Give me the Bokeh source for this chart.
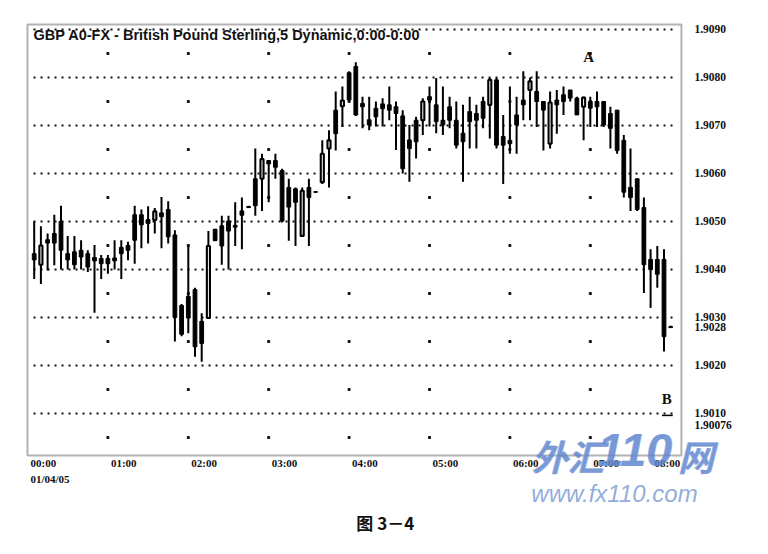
from bokeh.plotting import figure
from bokeh.models import Range1d, Label, ColumnDataSource, BoxAnnotation
from bokeh.core.properties import value
from bokeh.embed import file_html
from bokeh.resources import INLINE

# ---- data: 5-minute bars, GBP, 01/04/05 00:05 .. 08:00 ----
bar_no = list(range(1, 97))          # bar n closes at n*5 minutes after 00:00
opens = [1.90433, 1.90410, 1.90462, 1.90475, 1.90500, 1.90433, 1.90437, 1.90440, 1.90433, 1.90425,
         1.90423, 1.90423, 1.90424, 1.90446, 1.90450, 1.90514, 1.90514, 1.90504, 1.90503, 1.90518,
         1.90525, 1.90472, 1.90325, 1.90344, 1.90358, 1.90292, 1.90299, 1.90484, 1.90491, 1.90501,
         1.90492, 1.90522, 1.90531, 1.90589, 1.90589, 1.90627, 1.90627, 1.90606, 1.90571, 1.90568,
         1.90470, 1.90571, 1.90562, 1.90582, 1.90652, 1.90732, 1.90740, 1.90810, 1.90823, 1.90746,
         1.90712, 1.90736, 1.90745, 1.90743, 1.90739, 1.90720, 1.90670, 1.90711, 1.90711, 1.90760,
         1.90743, 1.90711, 1.90739, 1.90711, 1.90684, 1.90729, 1.90725, 1.90750, 1.90743, 1.90795,
         1.90677, 1.90669, 1.90722, 1.90753, 1.90774, 1.90771, 1.90750, 1.90662, 1.90753, 1.90764,
         1.90774, 1.90757, 1.90739, 1.90750, 1.90750, 1.90750, 1.90725, 1.90732, 1.90669, 1.90571,
         1.90589, 1.90529, 1.90421, 1.90421, 1.90421, 1.90281]
highs = [1.90500, 1.90490, 1.90475, 1.90514, 1.90533, 1.90470, 1.90470, 1.90461, 1.90440, 1.90451,
         1.90430, 1.90430, 1.90461, 1.90461, 1.90458, 1.90533, 1.90525, 1.90532, 1.90528, 1.90551,
         1.90542, 1.90482, 1.90328, 1.90449, 1.90362, 1.90309, 1.90480, 1.90484, 1.90512, 1.90512,
         1.90540, 1.90550, 1.90533, 1.90652, 1.90641, 1.90627, 1.90641, 1.90610, 1.90589, 1.90571,
         1.90571, 1.90589, 1.90563, 1.90669, 1.90690, 1.90771, 1.90781, 1.90813, 1.90832, 1.90760,
         1.90760, 1.90750, 1.90757, 1.90781, 1.90750, 1.90732, 1.90701, 1.90718, 1.90757, 1.90781,
         1.90799, 1.90781, 1.90760, 1.90750, 1.90743, 1.90760, 1.90743, 1.90760, 1.90799, 1.90799,
         1.90722, 1.90781, 1.90760, 1.90813, 1.90800, 1.90813, 1.90750, 1.90771, 1.90774, 1.90781,
         1.90774, 1.90760, 1.90760, 1.90760, 1.90771, 1.90750, 1.90739, 1.90732, 1.90680, 1.90652,
         1.90589, 1.90550, 1.90442, 1.90449, 1.90442, 1.90283]
lows = [1.90380, 1.90370, 1.90398, 1.90409, 1.90400, 1.90400, 1.90400, 1.90400, 1.90395, 1.90310,
        1.90380, 1.90391, 1.90400, 1.90380, 1.90419, 1.90412, 1.90444, 1.90454, 1.90475, 1.90444,
        1.90454, 1.90250, 1.90261, 1.90267, 1.90218, 1.90208, 1.90299, 1.90460, 1.90410, 1.90400,
        1.90449, 1.90442, 1.90529, 1.90512, 1.90522, 1.90540, 1.90589, 1.90498, 1.90460, 1.90449,
        1.90470, 1.90449, 1.90560, 1.90578, 1.90571, 1.90648, 1.90697, 1.90752, 1.90720, 1.90694,
        1.90690, 1.90698, 1.90698, 1.90711, 1.90649, 1.90600, 1.90583, 1.90631, 1.90680, 1.90698,
        1.90684, 1.90680, 1.90694, 1.90652, 1.90583, 1.90652, 1.90652, 1.90694, 1.90673, 1.90652,
        1.90578, 1.90641, 1.90641, 1.90711, 1.90711, 1.90697, 1.90648, 1.90652, 1.90683, 1.90722,
        1.90750, 1.90722, 1.90669, 1.90697, 1.90697, 1.90697, 1.90652, 1.90641, 1.90550, 1.90522,
        1.90522, 1.90351, 1.90320, 1.90362, 1.90229, 1.90278]
closes = [1.90420, 1.90450, 1.90455, 1.90455, 1.90440, 1.90420, 1.90410, 1.90426, 1.90405, 1.90418,
          1.90412, 1.90412, 1.90418, 1.90433, 1.90440, 1.90461, 1.90493, 1.90496, 1.90521, 1.90510,
          1.90468, 1.90300, 1.90265, 1.90299, 1.90239, 1.90246, 1.90449, 1.90460, 1.90449, 1.90480,
          1.90488, 1.90513, 1.90529, 1.90533, 1.90630, 1.90620, 1.90613, 1.90501, 1.90530, 1.90540,
          1.90564, 1.90550, 1.90561, 1.90641, 1.90669, 1.90683, 1.90752, 1.90753, 1.90722, 1.90739,
          1.90701, 1.90718, 1.90735, 1.90732, 1.90725, 1.90610, 1.90652, 1.90666, 1.90750, 1.90753,
          1.90708, 1.90701, 1.90711, 1.90659, 1.90666, 1.90708, 1.90711, 1.90715, 1.90795, 1.90659,
          1.90659, 1.90662, 1.90701, 1.90743, 1.90792, 1.90750, 1.90732, 1.90748, 1.90743, 1.90750,
          1.90757, 1.90722, 1.90758, 1.90736, 1.90739, 1.90701, 1.90694, 1.90648, 1.90561, 1.90550,
          1.90525, 1.90410, 1.90400, 1.90390, 1.90260, 1.90279]

hour_labels = ["00:00", "01:00", "02:00", "03:00", "04:00", "05:00", "06:00", "07:00", "08:00"]
date_label = "01/04/05"
price_ticks = [1.9090, 1.9080, 1.9070, 1.9060, 1.9050, 1.9040, 1.9030, 1.9028, 1.9020, 1.9010, 1.90076]
price_labels = ["1.9090", "1.9080", "1.9070", "1.9060", "1.9050", "1.9040", "1.9030", "1.9028",
                "1.9020", "1.9010", "1.90076"]
grid_levels = [1.9010, 1.9020, 1.9030, 1.9040, 1.9050, 1.9060, 1.9070, 1.9080, 1.9090]
title_text = "GBP A0-FX - British Pound Sterling,5 Dynamic,0:00-0:00"
caption_text = "图 3－4"
watermark_parts = ["外汇", "110", "网"]
watermark_url = "www.fx110.com"

# ---- chart window (data units) ----
t_start, t_end = 0, 488              # minutes after 00:00 shown in the chart box
chart_bottom, chart_top = 1.900125, 1.909104
PX_X = 80.4 / 60                     # pixels per minute
PX_Y = 48000.0                       # pixels per price unit
FRAME_W, FRAME_H = 740, 528

# ---- derived ----
xs = [5 * n for n in bar_no]
tops = [max(o, c) for o, c in zip(opens, closes)]
bots = [min(o, c) for o, c in zip(opens, closes)]
ups = [c > o for o, c in zip(opens, closes)]
src_dn = ColumnDataSource(dict(x=[x for x, u in zip(xs, ups) if not u],
                               top=[t for t, u in zip(tops, ups) if not u],
                               bottom=[b for b, u in zip(bots, ups) if not u]))
src_up = ColumnDataSource(dict(x=[x for x, u in zip(xs, ups) if u],
                               top=[t for t, u in zip(tops, ups) if u],
                               bottom=[b for b, u in zip(bots, ups) if u]))
src_w = ColumnDataSource(dict(x=xs, high=highs, low=lows))

SERIF = "Liberation Serif"
INK = "#111111"

pad_x = 2 / PX_X
pad_y = 2 / PX_Y
x0 = t_start - pad_x
y1 = chart_top + pad_y
p = figure(frame_width=FRAME_W, frame_height=FRAME_H,
           x_range=Range1d(x0, x0 + FRAME_W / PX_X),
           y_range=Range1d(y1 - FRAME_H / PX_Y, y1),
           output_backend="svg", toolbar_location=None,
           x_axis_location=None, y_axis_location=None,
           min_border_left=25, min_border_top=22, min_border_right=1, min_border_bottom=2)
p.outline_line_color = None
p.background_fill_color = "white"
p.border_fill_color = "white"
p.xgrid.visible = False
p.ygrid.visible = False

# chart box
p.add_layout(BoxAnnotation(left=t_start, right=t_end, bottom=chart_bottom, top=chart_top,
                           fill_color=None, line_color="black", line_width=2))

# dotted horizontal grid
p.segment(x0=[t_start + 4.5] * len(grid_levels), y0=grid_levels,
          x1=[t_end - 6.5] * len(grid_levels), y1=grid_levels,
          line_color=INK, line_width=2, line_dash="2 5")

# sparse vertical dots at each hour, on half levels
half_levels = [g - 0.0005 for g in grid_levels]
vx, vy = [], []
for h in range(1, len(hour_labels) - 1):
    for lv in half_levels:
        vx.append(60 * h)
        vy.append(lv)
p.scatter(vx, vy, marker="square", size=2, color=INK)

# candles
p.segment(x0="x", y0="low", x1="x", y1="high", line_width=2, line_color="black", source=src_w)
p.vbar(x="x", width=2.8, top="top", bottom="bottom", fill_color="black", line_color="black",
       line_width=1, source=src_dn)
p.vbar(x="x", width=2.3, top="top", bottom="bottom", fill_color="white", line_color="black",
       line_width=2.1, source=src_up)

# price labels right of the box
p.text(x=[t_end + 13 / PX_X] * len(price_ticks), y=price_ticks, text=price_labels,
       text_font=value(SERIF), text_font_style="bold", text_font_size="11.5px",
       text_baseline="middle", text_align="left", text_color=INK)

# time labels under the box
label_x = [min(60 * h + 3 / PX_X, 468) for h in range(len(hour_labels))]
p.text(x=label_x, y=[chart_bottom - 8 / PX_Y] * len(hour_labels), text=hour_labels,
       text_font=value(SERIF), text_font_style="bold", text_font_size="11px",
       text_baseline="middle", text_align="left", text_color=INK)
p.text(x=[label_x[0]], y=[chart_bottom - 24 / PX_Y], text=[date_label],
       text_font=value(SERIF), text_font_style="bold", text_font_size="11px",
       text_baseline="middle", text_align="left", text_color=INK)

# caption
p.text(x=[267], y=[chart_bottom - 67 / PX_Y], text=[caption_text],
       text_font=value("Noto Sans CJK SC"), text_font_style="bold", text_font_size="17px",
       text_baseline="middle", text_align="center", text_color=INK)

# title and markers
p.add_layout(Label(x=t_start + 4.5, y=chart_top - 2 / PX_Y, text=title_text, text_baseline="top",
                   text_align="left", text_font="Liberation Sans", text_font_style="bold",
                   text_font_size="14.5px", text_color=INK))
p.add_layout(Label(x=418.7, y=1.90842, text="A", text_baseline="middle", text_align="center",
                   text_font=SERIF, text_font_style="bold", text_font_size="15px", text_color=INK))
p.add_layout(Label(x=477, y=1.90131, text="B", text_baseline="middle", text_align="center",
                   text_font=SERIF, text_font_style="bold", text_font_size="15px", text_color=INK))
p.segment(x0=[473.5], y0=[1.90096], x1=[481.5], y1=[1.90096], line_width=1.5, line_color="black")

# watermark (site stamp over the lower right corner)
wm_specs = [(376, 26, "Noto Sans CJK SC", "36px"),
            (425, 21, "Liberation Sans", "47px"),
            (485, 26, "Noto Sans CJK SC", "36px")]
for part, (wx, wy, wf, ws) in zip(watermark_parts, wm_specs):
    for dx in (0, 0.8):
        p.add_layout(Label(x=wx + dx / PX_X, y=chart_bottom + wy / PX_Y, text=part,
                           text_baseline="top", text_align="left", text_font=wf,
                           text_font_style="bold italic", text_font_size=ws,
                           text_color="#5f86cf", text_alpha=0.6))
p.add_layout(Label(x=376, y=chart_bottom - 25 / PX_Y, text=watermark_url, text_baseline="top",
                   text_align="left", text_font="Liberation Sans", text_font_style="italic",
                   text_font_size="24px", text_color="#86a3d6", text_alpha=0.9))

open("out.html", "w").write(file_html(p, INLINE))
